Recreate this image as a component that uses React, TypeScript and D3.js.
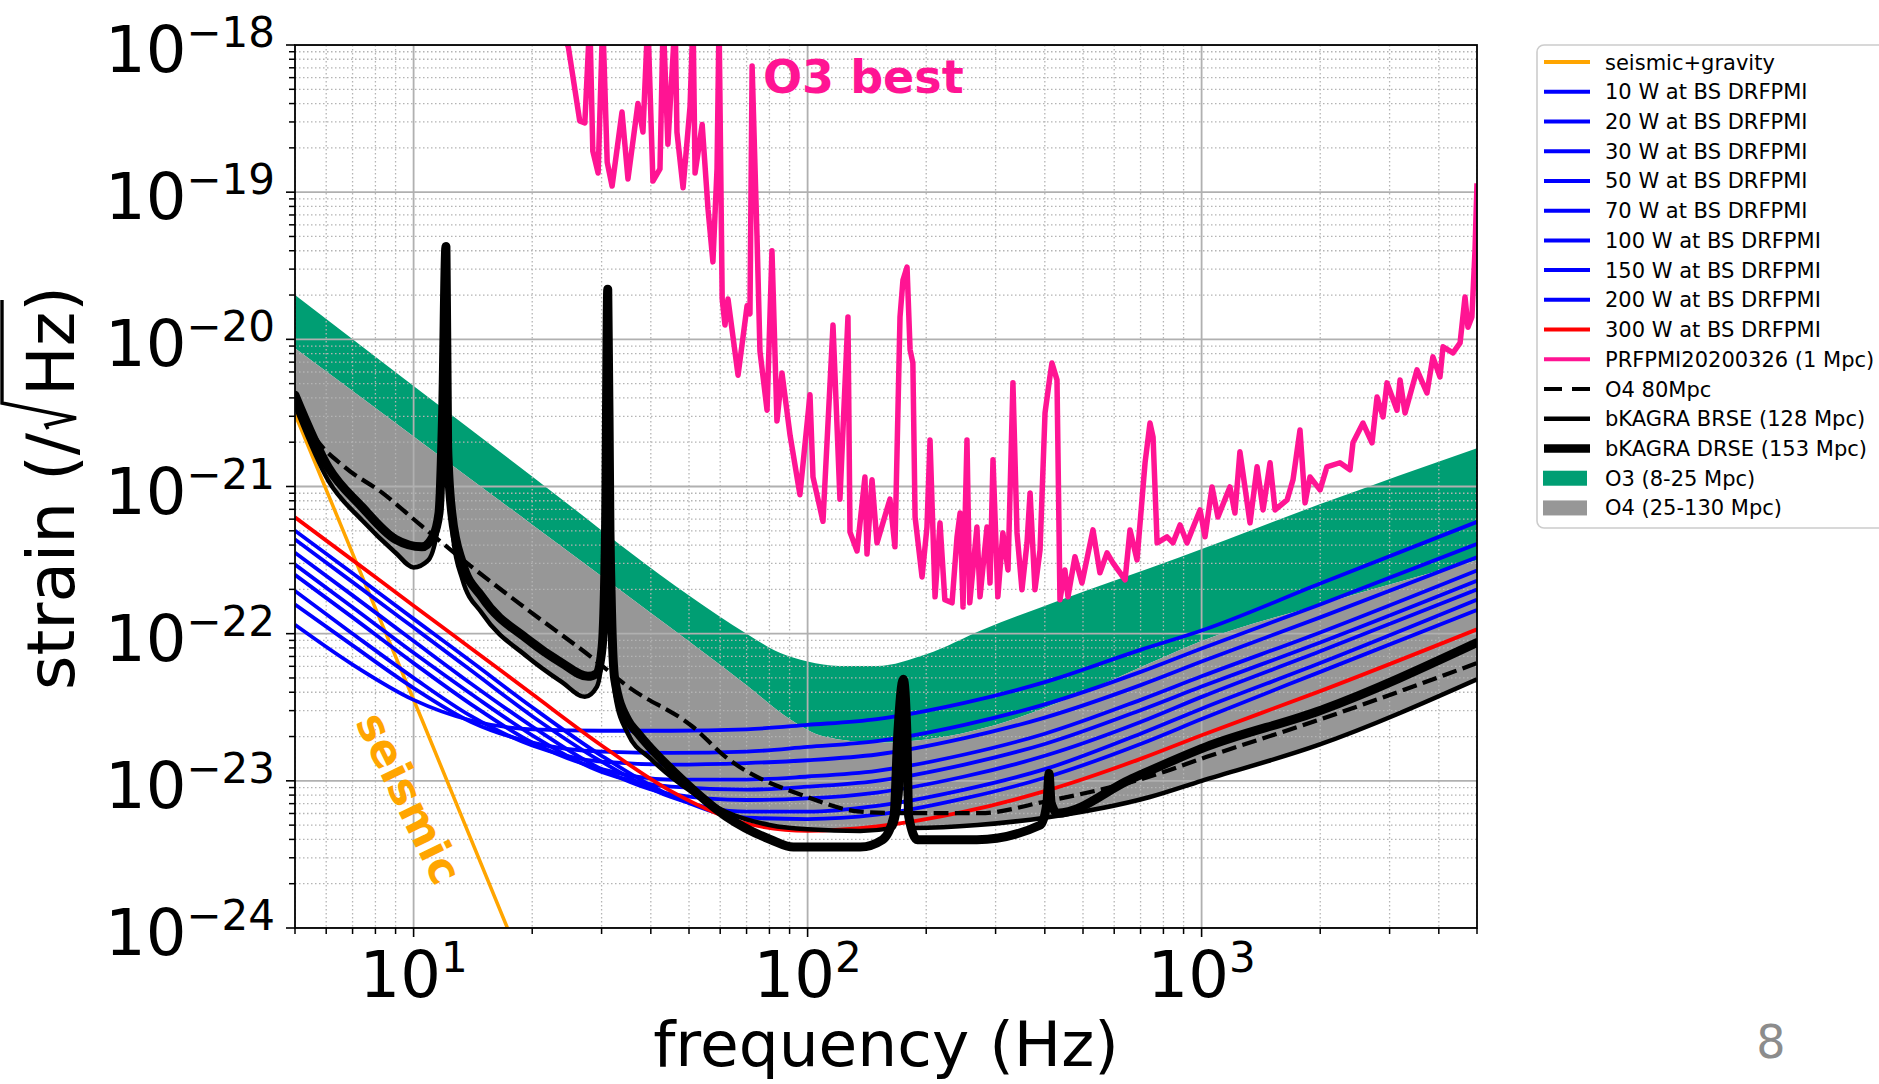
import * as d3 from "d3";

type Pt = [number, number];

const WIDTH = 1879;
const HEIGHT = 1084;
const PLOT = { left: 295, right: 1477, top: 45, bottom: 928 };

const xMajor = [10, 100, 1000];
const yMajor = [1e-18, 1e-19, 1e-20, 1e-21, 1e-22, 1e-23, 1e-24];

// seismic + gravity gradient
const seismicGravity: Pt[] = [[5, 3.1e-21], [7.1, 3.2e-22], [10.5, 2.6e-23], [17.3, 1.0e-24], [20, 4.0e-25]];

// DRFPMI curves, one strain value per frequency
const fpmiFreq = [5, 7, 10, 14, 20, 30, 45, 70, 100, 150, 250, 400, 700, 1000, 2000, 5000];
const drfpmi10W = [1.15e-22, 6.17e-23, 3.55e-23, 2.57e-23, 2.24e-23, 2.19e-23, 2.19e-23, 2.24e-23, 2.4e-23, 2.63e-23, 3.39e-23, 4.68e-23, 7.76e-23, 1.05e-22, 2.19e-22, 5.75e-22];
const drfpmi20W = [1.58e-22, 8.32e-23, 4.27e-23, 2.51e-23, 1.82e-23, 1.58e-23, 1.55e-23, 1.58e-23, 1.7e-23, 1.86e-23, 2.4e-23, 3.31e-23, 5.5e-23, 7.94e-23, 1.58e-22, 4.07e-22];
const drfpmi30W = [1.95e-22, 1.0e-22, 5.01e-23, 2.75e-23, 1.74e-23, 1.35e-23, 1.29e-23, 1.32e-23, 1.38e-23, 1.51e-23, 1.95e-23, 2.69e-23, 4.47e-23, 6.46e-23, 1.29e-22, 3.31e-22];
const drfpmi50W = [2.51e-22, 1.29e-22, 6.31e-23, 3.31e-23, 1.82e-23, 1.2e-23, 1.02e-23, 1.02e-23, 1.07e-23, 1.17e-23, 1.51e-23, 2.09e-23, 3.55e-23, 5.13e-23, 1.02e-22, 2.69e-22];
const drfpmi70W = [2.95e-22, 1.51e-22, 7.41e-23, 3.89e-23, 2.04e-23, 1.15e-23, 9.12e-24, 8.71e-24, 9.12e-24, 1.0e-23, 1.29e-23, 1.78e-23, 3.02e-23, 4.37e-23, 8.71e-23, 2.29e-22];
const drfpmi100W = [3.55e-22, 1.82e-22, 8.91e-23, 4.57e-23, 2.34e-23, 1.2e-23, 8.13e-24, 7.41e-24, 7.59e-24, 8.32e-24, 1.07e-23, 1.48e-23, 2.51e-23, 3.72e-23, 7.59e-23, 2.0e-22];
const drfpmi150W = [4.37e-22, 2.24e-22, 1.1e-22, 5.62e-23, 2.75e-23, 1.35e-23, 7.76e-24, 6.17e-24, 6.17e-24, 6.76e-24, 8.71e-24, 1.2e-23, 2.09e-23, 3.09e-23, 6.31e-23, 1.7e-22];
const drfpmi200W = [5.01e-22, 2.57e-22, 1.26e-22, 6.46e-23, 3.16e-23, 1.48e-23, 7.94e-24, 5.62e-24, 5.5e-24, 5.89e-24, 7.59e-24, 1.05e-23, 1.78e-23, 2.63e-23, 5.5e-23, 1.45e-22];
const drfpmi300W = [6.17e-22, 3.16e-22, 1.55e-22, 7.94e-23, 3.89e-23, 1.74e-23, 8.51e-24, 5.13e-24, 4.57e-24, 4.9e-24, 6.17e-24, 8.51e-24, 1.41e-23, 2.04e-23, 4.07e-23, 1.07e-22];

// measured PRFPMI (2020-03-26)
const prfpmi: Pt[] = [
  [22, 2e-18], [24.7, 9.7e-19], [26.4, 3.05e-19], [27.2, 2.95e-19], [28.0, 1.5e-18], [28.5, 1.9e-19], [29.4, 1.35e-19],
  [30.2, 1.5e-18], [31.0, 1.6e-19], [31.9, 1.1e-19], [33.8, 3.5e-19], [35.0, 1.23e-19], [37.1, 4.0e-19], [38.2, 2.56e-19],
  [39.3, 1.5e-18], [40.5, 1.19e-19], [42.2, 1.44e-19], [43.0, 1.5e-18], [44.2, 2.12e-19], [46.1, 1.5e-18], [46.6, 2.56e-19],
  [48.3, 1.07e-19], [50.3, 3.8e-19], [51.2, 1.5e-18], [51.8, 1.35e-19], [54.0, 2.88e-19], [55.9, 7.6e-20], [57.5, 3.36e-20],
  [58.9, 1.44e-19], [59.6, 1.5e-18], [60.7, 1.88e-20], [61.7, 1.25e-20], [62.8, 1.88e-20], [66.6, 5.7e-21], [70.2, 1.69e-20],
  [71.4, 1.49e-20], [72.3, 7.2e-19], [74.4, 5.0e-20], [75.7, 8.3e-21], [78.9, 3.3e-21], [81.2, 4.0e-20], [83.6, 2.79e-21],
  [86.1, 5.9e-21], [90.3, 2.21e-21], [95.6, 8.8e-22], [101.4, 4.2e-21], [103.2, 1.16e-21], [109.4, 5.8e-22], [116, 1.25e-20],
  [120.8, 8.2e-22], [126.6, 1.42e-20], [128.1, 4.9e-22], [133.5, 3.65e-22], [139.8, 1.16e-21], [141.5, 3.48e-22],
  [145.7, 1.11e-21], [150, 4.14e-22], [161.8, 8.2e-22], [166.6, 3.89e-22], [171.6, 1.42e-20], [174.6, 2.53e-20],
  [178.8, 3.1e-20], [182, 8.5e-21], [185, 6.9e-21], [187.4, 6.2e-22], [195.2, 2.43e-22], [200.9, 5.3e-22], [204.5, 2.07e-21],
  [210.6, 1.78e-22], [216.8, 5.66e-22], [223, 1.7e-22], [232.6, 1.62e-22], [239.5, 4.55e-22], [243.8, 6.6e-22], [248, 1.52e-22],
  [253.8, 2.07e-21], [258, 1.62e-22], [269, 5.3e-22], [273.9, 1.78e-22], [285.3, 5.3e-22], [290.4, 2.21e-22], [295.5, 1.52e-21],
  [304, 1.78e-22], [313, 4.84e-22], [322.6, 2.71e-22], [332, 5.06e-21], [340, 4.84e-22], [350, 1.99e-22], [360.5, 4.14e-22],
  [367, 9.05e-22], [377.6, 1.99e-22], [389, 3.71e-22], [400.5, 3.16e-21], [412, 5.56e-21], [417, 6.9e-21], [429.5, 5.3e-21],
  [437, 1.7e-22], [449.8, 2.71e-22], [458, 1.78e-22], [477, 3.33e-22], [497, 2.21e-22], [530, 5.07e-22], [552, 2.59e-22],
  [575.4, 3.54e-22], [595.6, 3.03e-22], [639.4, 2.32e-22], [658, 5.07e-22], [685.6, 3.17e-22], [718.6, 1.45e-21],
  [739.6, 2.7e-21], [753, 2.17e-21], [771, 4.14e-22], [817, 4.55e-22], [846, 4.14e-22], [881.6, 5.48e-22], [918, 4.14e-22],
  [991, 6.93e-22], [1020, 4.55e-22], [1063, 9.93e-22], [1100, 6.2e-22], [1180, 9.93e-22], [1215, 6.6e-22], [1251, 1.72e-21],
  [1327, 5.66e-22], [1383, 1.36e-21], [1432, 6.93e-22], [1492, 1.45e-21], [1536, 6.93e-22], [1648, 8.1e-22], [1706, 1.11e-21],
  [1777, 2.42e-21], [1830, 7.74e-22], [1884, 1.16e-21], [1998, 9.48e-22], [2080, 1.36e-21], [2244, 1.45e-21], [2380, 1.3e-21],
  [2422, 1.98e-21], [2568, 2.7e-21], [2707, 1.98e-21], [2788, 4.06e-21], [2887, 2.97e-21], [2955, 5.06e-21], [3133, 3.3e-21],
  [3189, 5.3e-21], [3283, 3.16e-21], [3521, 6.2e-21], [3732, 4.32e-21], [3864, 7.6e-21], [4027, 5.56e-21], [4100, 8.9e-21],
  [4345, 8.1e-21], [4529, 9.45e-21], [4662, 1.94e-20], [4743, 1.21e-20], [4853, 1.42e-20], [4943, 4.05e-20], [5000, 1.15e-19],
];

const o4Design80: Pt[] = [
  [5, 3.89e-21], [5.6, 2.19e-21], [6.7, 1.35e-21], [8.3, 9.12e-22], [10.5, 5.37e-22], [14.1, 2.82e-22], [19.5, 1.45e-22],
  [28.9, 6.61e-23], [35, 4.37e-23], [51, 2.34e-23], [62, 1.45e-23], [100, 7.76e-24], [136, 6.17e-24], [172, 6.03e-24],
  [274, 6.03e-24], [401, 7.24e-24], [739, 1.07e-23], [1026, 1.45e-23], [1963, 2.57e-23], [5000, 6.31e-23],
];

const bkagraBRSE: Pt[] = [
  [5, 3.55e-21], [6.07, 1.1e-21], [7.4, 5.89e-22], [9.0, 3.55e-22], [10.0, 2.82e-22], [10.9, 3.16e-22], [11.6, 6.03e-22],
  [11.9, 2.51e-21], [12.08, 1.0e-20], [12.25, 2.51e-21], [12.6, 4.47e-22], [13.3, 2.34e-22], [14.9, 1.38e-22], [19.5, 6.92e-23],
  [23.8, 4.68e-23], [27.2, 3.72e-23], [29.2, 4.37e-23], [30.4, 1.0e-22], [31.1, 6.31e-21], [31.8, 1.0e-22], [32.5, 3.8e-23],
  [35, 2.09e-23], [40, 1.41e-23], [48, 9.33e-24], [62, 6.17e-24], [80, 5.01e-24], [100, 4.68e-24], [136, 4.57e-24],
  [165, 4.79e-24], [172, 7.94e-24], [175, 2.51e-23], [178, 7.94e-24], [186, 4.79e-24], [270, 5.01e-24], [400, 5.62e-24],
  [739, 7.76e-24], [1000, 1.0e-23], [1963, 1.74e-23], [5000, 4.9e-23],
];

const bkagraDRSE: Pt[] = [
  [5, 4.17e-21], [6.07, 1.35e-21], [7.4, 7.24e-22], [9.0, 4.37e-22], [10.5, 3.89e-22], [11.2, 4.57e-22], [11.6, 6.61e-22],
  [11.85, 3.16e-21], [12.08, 4.27e-20], [12.2, 1.86e-21], [12.5, 6.61e-22], [13.3, 3.02e-22], [14.9, 1.78e-22], [19.5, 9.12e-23],
  [23.8, 6.31e-23], [27.7, 5.13e-23], [29.2, 5.37e-23], [30.1, 8.13e-23], [30.7, 5.01e-22], [31.1, 2.19e-20], [31.5, 5.01e-22],
  [31.8, 1.38e-22], [32.4, 4.9e-23], [35, 2.57e-23], [36.9, 2.14e-23], [48, 1.02e-23], [62, 5.75e-24], [80.7, 3.98e-24],
  [92, 3.55e-24], [136, 3.55e-24], [155, 3.98e-24], [165.6, 5.75e-24], [169.5, 2.14e-23], [175, 4.9e-23], [178.6, 2.14e-23],
  [180.5, 5.75e-24], [190, 3.98e-24], [269, 3.98e-24], [390, 5.01e-24], [405, 7.08e-24], [410, 1.12e-23], [415, 7.08e-24],
  [430, 6.03e-24], [658, 1.02e-23], [1026, 1.7e-23], [2009, 3.02e-23], [5000, 8.71e-23],
];

// observing-scenario bands
const o3Upper: Pt[] = [
  [5, 2.0e-20], [20, 1.17e-21], [50, 1.82e-22], [70, 1.0e-22], [85, 7.41e-23], [100, 6.46e-23], [120, 6.03e-23],
  [150, 6.03e-23], [200, 7.24e-23], [280, 1.07e-22], [440, 1.7e-22], [880, 3.31e-22], [2000, 7.59e-22], [5000, 1.82e-21],
];
const o3Lower: Pt[] = [
  [5, 8.71e-21], [10, 2.19e-21], [20, 5.5e-22], [40, 1.38e-22], [70, 4.47e-23], [90, 2.63e-23], [110, 2.0e-23],
  [150, 1.82e-23], [200, 1.91e-23], [300, 2.4e-23], [500, 3.98e-23], [740, 6.31e-23], [1000, 8.91e-23], [2000, 1.58e-22],
  [5000, 3.16e-22],
];
const o4Upper = o3Lower;
const o4Lower = bkagraBRSE;

const blues = [drfpmi10W, drfpmi20W, drfpmi30W, drfpmi50W, drfpmi70W, drfpmi100W, drfpmi150W, drfpmi200W];

const legendItems = [
  { label: "seismic+gravity", color: "#FFA500", width: 4 },
  { label: "10 W at BS DRFPMI", color: "#0000FF", width: 4 },
  { label: "20 W at BS DRFPMI", color: "#0000FF", width: 4 },
  { label: "30 W at BS DRFPMI", color: "#0000FF", width: 4 },
  { label: "50 W at BS DRFPMI", color: "#0000FF", width: 4 },
  { label: "70 W at BS DRFPMI", color: "#0000FF", width: 4 },
  { label: "100 W at BS DRFPMI", color: "#0000FF", width: 4 },
  { label: "150 W at BS DRFPMI", color: "#0000FF", width: 4 },
  { label: "200 W at BS DRFPMI", color: "#0000FF", width: 4 },
  { label: "300 W at BS DRFPMI", color: "#FF0000", width: 4 },
  { label: "PRFPMI20200326 (1 Mpc)", color: "#FF1493", width: 4 },
  { label: "O4 80Mpc", color: "#000000", width: 4, dash: "18,10" },
  { label: "bKAGRA BRSE (128 Mpc)", color: "#000000", width: 4.5 },
  { label: "bKAGRA DRSE (153 Mpc)", color: "#000000", width: 8.5 },
  { label: "O3 (8-25 Mpc)", patch: "#009E73" },
  { label: "O4 (25-130 Mpc)", patch: "#979797" },
];

const FONT = "'DejaVu Sans', sans-serif";

export default function App() {
  const x = d3.scaleLog().domain([5, 5000]).range([PLOT.left, PLOT.right]);
  const y = d3.scaleLog().domain([1e-24, 1e-18]).range([PLOT.bottom, PLOT.top]);

  const smooth = d3.line<Pt>().x((d) => x(d[0])).y((d) => y(d[1])).curve(d3.curveMonotoneX);
  const straight = d3.line<Pt>().x((d) => x(d[0])).y((d) => y(d[1]));
  const below = d3.area<Pt>().x((d) => x(d[0])).y0(PLOT.bottom + 40).y1((d) => y(d[1])).curve(d3.curveMonotoneX);
  const above = d3.area<Pt>().x((d) => x(d[0])).y0(PLOT.top - 40).y1((d) => y(d[1])).curve(d3.curveMonotoneX);

  const pairs = (vals: number[]): Pt[] => fpmiFreq.map((f, i) => [f, vals[i]] as Pt);

  const isMajor = (t: number, majors: number[]) => majors.some((m) => Math.abs(t - m) / m < 1e-6);
  const xMinor = x.ticks().filter((t) => !isMajor(t, xMajor));
  const yMinor = y.ticks().filter((t) => !isMajor(t, yMajor));

  const pw = PLOT.right - PLOT.left;
  const ph = PLOT.bottom - PLOT.top;

  return (
    <svg width={WIDTH} height={HEIGHT} style={{ position: "absolute", left: 0, top: 0, background: "#fff" }} fontFamily={FONT}>
      <defs>
        <clipPath id="plotClip">
          <rect x={PLOT.left} y={PLOT.top} width={pw} height={ph} />
        </clipPath>
        <clipPath id="o3Clip">
          <path d={above(o3Lower) || ""} />
        </clipPath>
        <clipPath id="o4Clip">
          <path d={above(o4Lower) || ""} />
        </clipPath>
      </defs>

      <rect x={0} y={0} width={WIDTH} height={HEIGHT} fill="#fff" />

      <g clipPath="url(#plotClip)">
        {/* bands */}
        <path d={below(o3Upper) || ""} fill="#009E73" clipPath="url(#o3Clip)" />
        <path d={below(o4Upper) || ""} fill="#979797" clipPath="url(#o4Clip)" />

        {/* grid */}
        {xMinor.map((t) => (
          <line key={"gx" + t} x1={x(t)} x2={x(t)} y1={PLOT.top} y2={PLOT.bottom} stroke="#b4b4b4" strokeWidth={1.3} strokeDasharray="1.5,2.5" />
        ))}
        {yMinor.map((t) => (
          <line key={"gy" + t} x1={PLOT.left} x2={PLOT.right} y1={y(t)} y2={y(t)} stroke="#b4b4b4" strokeWidth={1.3} strokeDasharray="1.5,2.5" />
        ))}
        {xMajor.map((t) => (
          <line key={"Gx" + t} x1={x(t)} x2={x(t)} y1={PLOT.top} y2={PLOT.bottom} stroke="#b0b0b0" strokeWidth={1.8} />
        ))}
        {yMajor.map((t) => (
          <line key={"Gy" + t} x1={PLOT.left} x2={PLOT.right} y1={y(t)} y2={y(t)} stroke="#b0b0b0" strokeWidth={1.8} />
        ))}

        {/* curves */}
        <path d={straight(seismicGravity) || ""} fill="none" stroke="#FFA500" strokeWidth={3.5} />
        {blues.map((vals, i) => (
          <path key={"b" + i} d={smooth(pairs(vals)) || ""} fill="none" stroke="#0000FF" strokeWidth={3.8} />
        ))}
        <path d={smooth(pairs(drfpmi300W)) || ""} fill="none" stroke="#FF0000" strokeWidth={3.8} />
        <path d={straight(prfpmi) || ""} fill="none" stroke="#FF1493" strokeWidth={5.5} strokeLinejoin="round" />
        <path d={smooth(o4Design80) || ""} fill="none" stroke="#000" strokeWidth={4.2} strokeDasharray="14.8,6.4" />
        <path d={smooth(bkagraBRSE) || ""} fill="none" stroke="#000" strokeWidth={4.5} strokeLinejoin="round" />
        <path d={smooth(bkagraDRSE) || ""} fill="none" stroke="#000" strokeWidth={9} strokeLinejoin="round" strokeLinecap="round" />
      </g>

      {/* frame */}
      <rect x={PLOT.left} y={PLOT.top} width={pw} height={ph} fill="none" stroke="#000" strokeWidth={1.8} />

      {/* ticks */}
      {xMinor.map((t) => (
        <line key={"tx" + t} x1={x(t)} x2={x(t)} y1={PLOT.bottom} y2={PLOT.bottom + 6} stroke="#000" strokeWidth={1.5} />
      ))}
      {xMajor.map((t) => (
        <line key={"Tx" + t} x1={x(t)} x2={x(t)} y1={PLOT.bottom} y2={PLOT.bottom + 9} stroke="#000" strokeWidth={1.6} />
      ))}
      {yMinor.map((t) => (
        <line key={"ty" + t} x1={PLOT.left - 6} x2={PLOT.left} y1={y(t)} y2={y(t)} stroke="#000" strokeWidth={1.5} />
      ))}
      {yMajor.map((t) => (
        <line key={"Ty" + t} x1={PLOT.left - 9} x2={PLOT.left} y1={y(t)} y2={y(t)} stroke="#000" strokeWidth={1.6} />
      ))}

      {/* tick labels */}
      {xMajor.map((t) => (
        <text key={"lx" + t} x={x(t)} y={997} textAnchor="middle" fontSize={64} fill="#000">
          10<tspan fontSize={42} dy={-25}>{Math.round(Math.log10(t))}</tspan>
        </text>
      ))}
      {yMajor.map((t) => (
        <text key={"ly" + t} x={275} y={y(t) + 27} textAnchor="end" fontSize={64} fill="#000">
          10<tspan fontSize={42} dy={-25}>{"\u2212" + Math.round(-Math.log10(t))}</tspan>
        </text>
      ))}

      {/* axis titles */}
      <text x={(PLOT.left + PLOT.right) / 2} y={1066} textAnchor="middle" fontSize={63} fill="#000">
        frequency (Hz)
      </text>
      <g transform="translate(74,488) rotate(-90)">
        <text x={55} y={0} textAnchor="end" fontSize={66} fill="#000">strain (/</text>
        <path d="M59,-26 L63,-28 L70,2 L85,-72 L188,-72" fill="none" stroke="#000" strokeWidth={3.4} strokeLinejoin="miter" />
        <text x={92} y={0} textAnchor="start" fontSize={66} fill="#000">Hz)</text>
      </g>

      {/* annotations */}
      <text x={763} y={93} fontSize={46} fontWeight="bold" fill="#FF1493">O3 best</text>
      <text x={409} y={798} fontSize={44} fontWeight="bold" fill="#FFA500" textAnchor="middle" dominantBaseline="central" transform="rotate(64,409,798)">
        seismic
      </text>

      {/* legend */}
      <rect x={1537} y={45} width={360} height={483} rx={7} fill="#fff" fillOpacity={0.85} stroke="#cccccc" strokeWidth={1.6} />
      {legendItems.map((item, i) => {
        const cy = 62 + i * 29.73;
        return (
          <g key={item.label}>
            {item.patch ? (
              <rect x={1543} y={cy - 7.5} width={44} height={15} fill={item.patch} />
            ) : (
              <line x1={1544} x2={1590} y1={cy} y2={cy} stroke={item.color} strokeWidth={item.width} strokeDasharray={item.dash} />
            )}
            <text x={1605} y={cy + 7.5} fontSize={21} fill="#000">{item.label}</text>
          </g>
        );
      })}

      {/* slide page number */}
      <text x={1771} y={1058} textAnchor="middle" fontSize={46} fill="#8c8c8c">8</text>
    </svg>
  );
}
